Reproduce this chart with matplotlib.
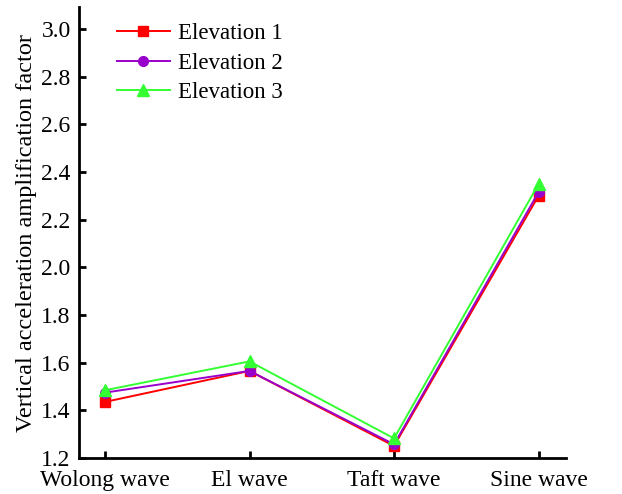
import numpy as np
import matplotlib.pyplot as plt

plt.rcParams['font.family'] = ['Liberation Serif', 'DejaVu Serif']

waves = ["Wolong wave", "El wave", "Taft wave", "Sine wave"]
elev1 = [1.435, 1.565, 1.250, 2.300]
elev2 = [1.474, 1.565, 1.257, 2.315]
elev3 = [1.484, 1.605, 1.282, 2.349]

fig = plt.figure(figsize=(6.22, 4.94), dpi=100)
ax = fig.add_axes([0.127, 0.073, 0.783, 0.912])

x = np.arange(len(waves))
ax.plot(x, elev1, color="#ff0000", marker="s", markersize=7, lw=1.4, label="Elevation 1")
ax.plot(x, elev2, color="#9900cc", marker="o", markersize=7, lw=1.4, label="Elevation 2")
ax.plot(x, elev3, color="#33ff33", marker="^", markersize=8, lw=1.4, label="Elevation 3")

ax.set_xlim(-0.18, 3.19)
ax.set_ylim(1.2, 3.09)
ax.set_xticks(x)
ax.set_xticklabels(waves)
ticks = np.arange(1.2, 3.01, 0.2)
ax.set_yticks(ticks)
ax.set_yticklabels(["%.1f" % v for v in ticks])
ax.set_ylabel("Vertical acceleration amplification factor", fontsize=17.5, labelpad=3)

for side in ("top", "right"):
    ax.spines[side].set_visible(False)
for side in ("left", "bottom"):
    ax.spines[side].set_linewidth(2)
ax.tick_params(direction="in", width=2, length=5, labelsize=17)
ax.tick_params(axis="x", pad=9)
ax.tick_params(axis="y", pad=6)

ax.legend(loc="upper left", bbox_to_anchor=(0.045, 1.0), frameon=False,
          fontsize=16.5, handlelength=2.3, handletextpad=0.35,
          labelspacing=0.35, borderaxespad=0.3)

fig.savefig("out.png", dpi=100)
